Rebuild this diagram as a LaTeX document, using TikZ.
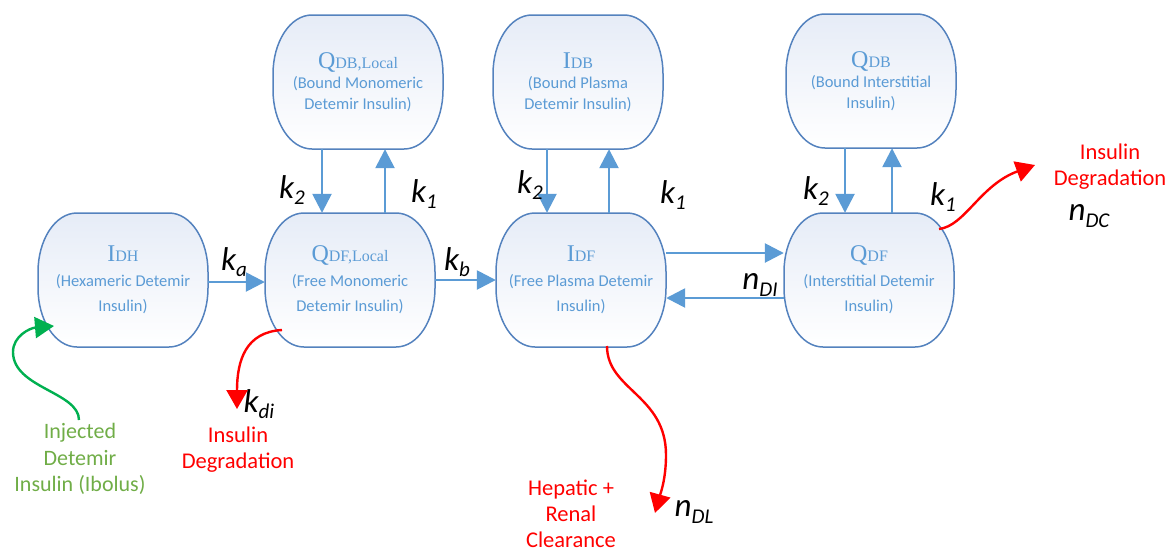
\documentclass[tikz,border=0pt]{standalone}
\usepackage{fontspec}
\setmainfont{Liberation Serif}
\newfontfamily\cfont{Carlito}
\usetikzlibrary{arrows.meta,backgrounds}
\definecolor{boxline}{RGB}{84,130,190}
\definecolor{boxtext}{RGB}{91,155,213}
\definecolor{arrowblue}{RGB}{91,155,213}
\definecolor{boxfill}{RGB}{230,236,247}
\definecolor{injgreen}{RGB}{0,176,80}
\definecolor{injtext}{RGB}{112,173,71}
\newcommand{\nm}[2]{{\rmfamily\fontsize{24}{24}\selectfont #1}{\rmfamily\fontsize{16}{16}\selectfont #2}}
\newcommand{\rl}[2]{{\cfont\itshape\fontsize{33}{33}\selectfont #1\raisebox{-0.2em}{\fontsize{21}{21}\selectfont #2}}}
\begin{document}
\begin{tikzpicture}[x=1pt,y=-1pt,
  cbox/.style={minimum width=170pt,minimum height=134pt,inner sep=0pt,align=center,text=boxtext,
    font=\cfont\fontsize{16.5}{25}\selectfont},
  cboxtop/.style={cbox,font=\cfont\fontsize{16.5}{20.5}\selectfont},
  outline/.style={draw=boxline,line width=1.5pt,top color=boxfill,bottom color=white},
  flow/.style={draw=arrowblue,line width=2.6pt,-{Triangle[length=19pt,width=19pt]}},
  redflow/.style={draw=red,line width=2.4pt,-{Triangle[length=19pt,width=21pt]}},
  greenflow/.style={draw=injgreen,line width=2.4pt,-{Triangle[length=19pt,width=21pt]}},
  rate/.style={inner sep=0pt,text=black},
  redlabel/.style={align=center,text=red,font=\cfont\fontsize{22.5}{26}\selectfont,inner sep=0pt},
  greenlabel/.style={align=center,text=injtext,font=\cfont\fontsize{22}{26.5}\selectfont,inner sep=0pt}]
\useasboundingbox (0,0) rectangle (1175,552);

% boxes
\node[cbox] (idh) at (123,280) {\nm{I}{DH}\\(Hexameric Detemir\\Insulin)};
\node[cbox] (qdfl) at (350,280) {\nm{Q}{DF,Local}\\(Free Monomeric\\Detemir Insulin)};
\node[cboxtop] (qdbl) at (358,82) {\nm{Q}{DB,Local}\\(Bound Monomeric\\Detemir Insulin)};
\node[cboxtop] (idb) at (578,82) {\nm{I}{DB}\\(Bound Plasma\\Detemir Insulin)};
\node[cbox] (idf) at (581,280) {\nm{I}{DF}\\(Free Plasma Detemir\\Insulin)};
\node[cboxtop] (qdb) at (871,81) {\nm{Q}{DB}\\(Bound Interstitial\\Insulin)};
\node[cbox] (qdf) at (869,280) {\nm{Q}{DF}\\(Interstitial Detemir\\Insulin)};

\begin{scope}[on background layer]
\foreach \n in {idh,qdfl,qdbl,idb,idf,qdb,qdf}{
  \path[outline,shift={(\n.center)}] (-46,-67) -- (46,-67)
    .. controls (68,-67) and (85,-40) .. (85,-8) -- (85,8)
    .. controls (85,40) and (68,67) .. (46,67) -- (-46,67)
    .. controls (-68,67) and (-85,40) .. (-85,8) -- (-85,-8)
    .. controls (-85,-40) and (-68,-67) .. (-46,-67) -- cycle;
}
\end{scope}

% horizontal flows
\draw[flow] ([yshift=-2pt]idh.east) -- ([yshift=-2pt]idh.east -| qdfl.west);
\draw[flow] (qdfl.east) -- (qdfl.east -| idf.west);
\draw[flow] ([yshift=27pt]idf.east) -- ([yshift=27pt]idf.east -| qdf.west);
\draw[flow] ([yshift=-18pt]qdf.west) -- ([yshift=-18pt]qdf.west -| idf.east);

% vertical flows
\draw[flow] ([xshift=-36pt]qdbl.south) -- ([xshift=-36pt]qdbl.south |- qdfl.north);
\draw[flow] ([xshift=35pt]qdfl.north) -- ([xshift=35pt]qdfl.north |- qdbl.south);
\draw[flow] ([xshift=-31pt]idb.south) -- ([xshift=-31pt]idb.south |- idf.north);
\draw[flow] ([xshift=28pt]idf.north) -- ([xshift=28pt]idf.north |- idb.south);
\draw[flow] ([xshift=-26pt]qdb.south) -- ([xshift=-26pt]qdb.south |- qdf.north);
\draw[flow] ([xshift=23pt]qdf.north) -- ([xshift=23pt]qdf.north |- qdb.south);

% rate labels
\node[rate] (ka) at (234,262) {\rl{k}{a}};
\node[rate] (kb) at (457,262) {\rl{k}{b}};
\node[rate] (k2a) at (292,190) {\rl{k}{2}};
\node[rate] (k1a) at (424,194) {\rl{k}{1}};
\node[rate] (k2b) at (530,185) {\rl{k}{2}};
\node[rate] (k1b) at (673,195) {\rl{k}{1}};
\node[rate] (k2c) at (816,191) {\rl{k}{2}};
\node[rate] (k1c) at (943,197) {\rl{k}{1}};
\node[rate] (ndi) at (760,285) {\rl{n}{DI}};
\node[rate] (ndc) at (1089,216) {\rl{n}{DC}};
\node[rate] (kdi) at (259,404) {\rl{k}{di}};
\node[rate] (ndl) at (694,512) {\rl{n}{DL}};

% outflow labels
\node[redlabel] (degr) at (1110,167) {Insulin\\Degradation};
\node[redlabel] (degl) at (238,450) {Insulin\\Degradation};
\node[redlabel] (hep) at (571,514) {Hepatic +\\Renal\\Clearance};
\node[greenlabel] (inj) at (80,459) {Injected\\Detemir\\Insulin (Ibolus)};

% curved flows
\coordinate (qdfout) at (939,229);
\coordinate (degtip) at (1035,165);
\draw[redflow] (qdfout) .. controls (965,226) and (980,185) .. (degtip);
\coordinate (qdflout) at (282,330);
\coordinate (degltip) at (237,409);
\draw[redflow] (qdflout) .. controls (246,332) and (237,360) .. (degltip);
\coordinate (idfout) at (607,346);
\coordinate (heptip) at (655,513);
\draw[redflow] (idfout) .. controls (607,390) and (666,395) .. (666,455) .. controls (666,480) and (660,495) .. (heptip);
\coordinate (injstart) at (79,420);
\coordinate (injtip) at (54,326);
\draw[greenflow] (injstart) .. controls (79,392) and (13,388) .. (13,352) .. controls (13,336) and (30,328) .. (injtip);
\end{tikzpicture}
\end{document}
